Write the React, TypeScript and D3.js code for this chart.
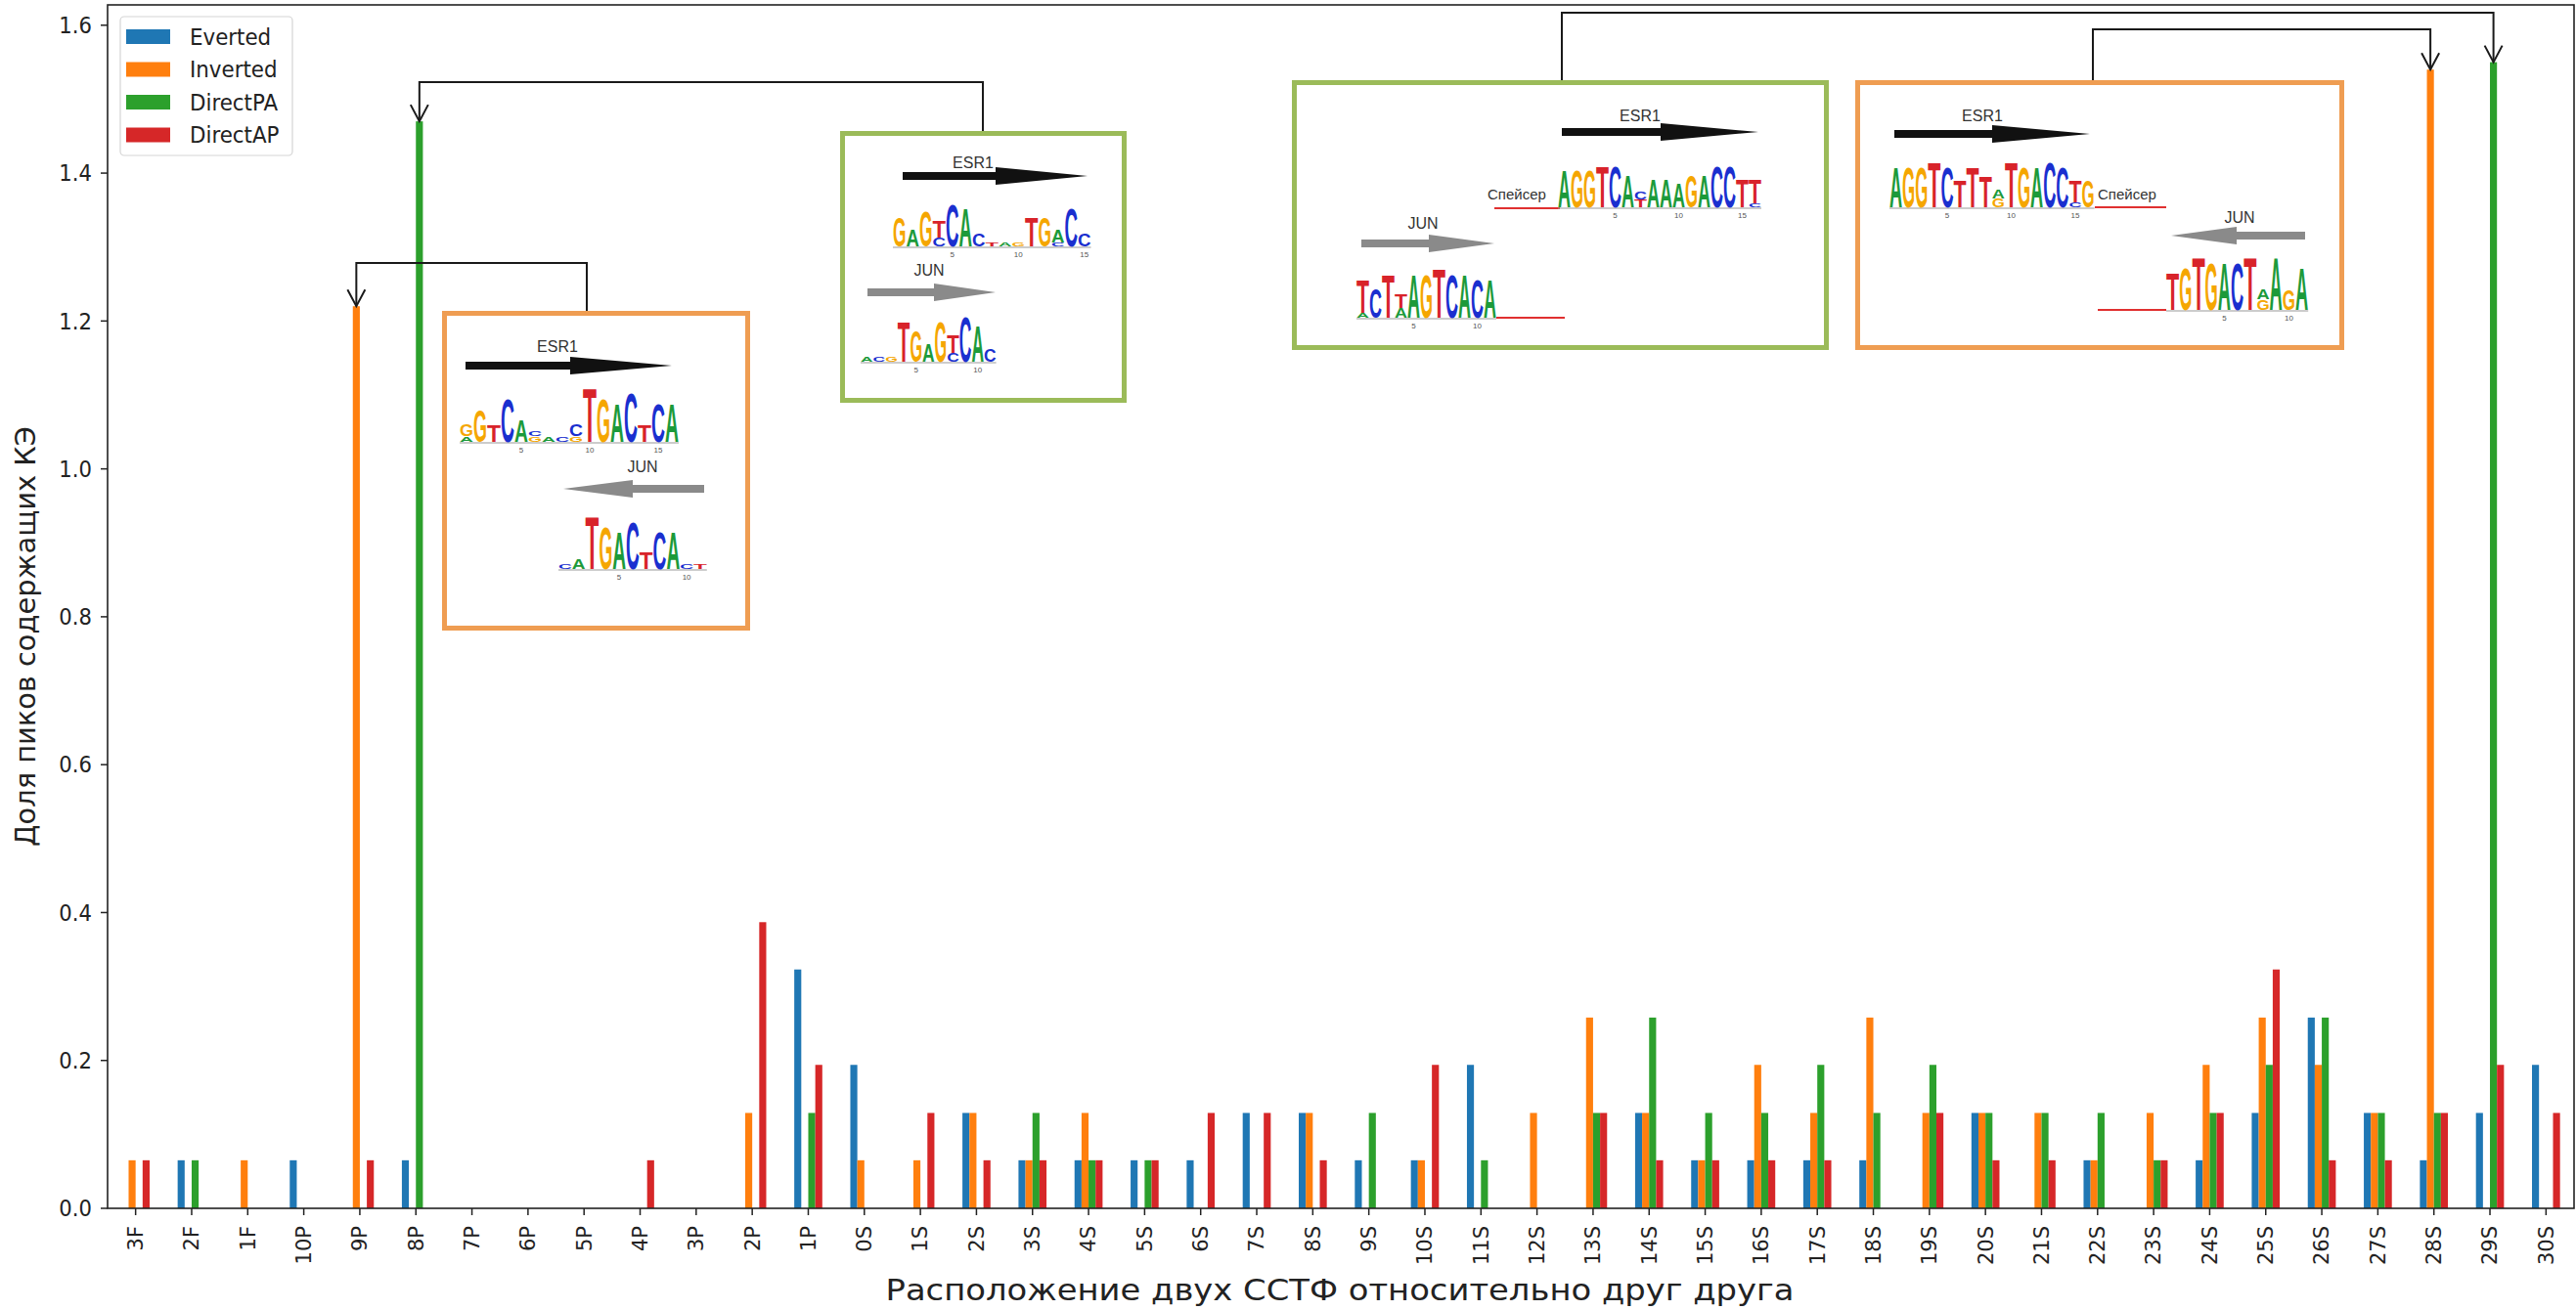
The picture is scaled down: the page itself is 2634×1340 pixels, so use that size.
import React from "react";
import * as d3 from "d3";

const categories = ["3F","2F","1F","10P","9P","8P","7P","6P","5P","4P","3P","2P","1P","0S","1S","2S","3S","4S","5S","6S","7S","8S","9S","10S","11S","12S","13S","14S","15S","16S","17S","18S","19S","20S","21S","22S","23S","24S","25S","26S","27S","28S","29S","30S"];

const everted = [0,0.065,0,0.065,0,0.065,0,0,0,0,0,0,0.323,0.194,0,0.129,0.065,0.065,0.065,0.065,0.129,0.129,0.065,0.065,0.194,0,0,0.129,0.065,0.065,0.065,0.065,0,0.129,0,0.065,0,0.065,0.129,0.258,0.129,0.065,0.129,0.194];
const inverted = [0.065,0,0.065,0,1.22,0,0,0,0,0,0,0.129,0,0.065,0.065,0.129,0.065,0.129,0,0,0,0.129,0,0.065,0,0.129,0.258,0.129,0.065,0.194,0.129,0.258,0.129,0.129,0.129,0.065,0.129,0.194,0.258,0.194,0.129,1.54,0,0];
const directPA = [0,0.065,0,0,0,1.47,0,0,0,0,0,0,0.129,0,0,0,0.129,0.065,0.065,0,0,0,0.129,0,0.065,0,0.129,0.258,0.129,0.129,0.194,0.129,0.194,0.129,0.129,0.129,0.065,0.129,0.194,0.258,0.129,0.129,1.55,0];
const directAP = [0.065,0,0,0,0.065,0,0,0,0,0.065,0,0.387,0.194,0,0.129,0.065,0.065,0.065,0.065,0.129,0.129,0.065,0,0.194,0,0,0.129,0.065,0.065,0.065,0.065,0,0.129,0.065,0.065,0,0.065,0.129,0.323,0.065,0.065,0.129,0.194,0.129];

const seriesNames = ["Everted","Inverted","DirectPA","DirectAP"];
const seriesColors = ["#1f77b4","#ff7f0e","#2ca02c","#d62728"];
const yTicks = [0,0.2,0.4,0.6,0.8,1.0,1.2,1.4,1.6];

const xLabel = "Расположение двух ССТФ относительно друг друга";
const yLabel = "Доля пиков содержащих КЭ";

// sequence logos: columns bottom-to-top, letter + height (tenths of max)
const logo1E = "A1G2 G6 T3 C8 A4 G1C1 A1 C1 G1C2 T10 G8 A7 C9 T3 C7 A7";
const logo1J = "C1 A2 T10 G8 A7 C9 T3 C7 A7 C1 T1";
const logo2E = "G7 A4 G8 C2T4 C10 A9 C3 T1 A1 G1 T7 G7 C1A3 C9 C3";
const logo2J = "A1 C1 G1 T9 G7 A4 G9 C2T4 C10 A8 C3";
const logo3E = "A9 G9 G9 T10 C10 A8 T2C2 A7 A7 A6 G8 A8 C10 C10 T7 C1T6";
const logo3J = "A1T7 C6 T9 A2T3 A9 G9 T10 C9 A9 C8 A8";
const logo4E = "A9 G9 G9 T10 C9 T6 T9 T7 G2A2 T10 G9 A9 C10 C9 C1T5 G6";
const logo4J = "T7 G8 T10 G9 A9 C9 T10 G2A2 A10 G4 A8";

const W = 2634, H = 1340;
const M = { left: 110, right: 2632, top: 5, bottom: 1236 };

const letterColor: Record<string,string> = { A: "#1c9a3a", C: "#1a2fcf", G: "#f5a600", T: "#d8232a" };
const letterW: Record<string,number> = { A: 0.722, C: 0.722, G: 0.778, T: 0.611 };

function Logo({ x0, base, colW, maxH, seq, nums }: any) {
  const cols = seq.split(" ");
  const out: any[] = [];
  cols.forEach((col: string, i: number) => {
    const re = /([ACGT])(\d+)/g;
    let m: any;
    let y = base;
    const cx = x0 + (i + 0.5) * colW;
    while ((m = re.exec(col))) {
      const L = m[1];
      const hh = (+m[2] / 10) * maxH;
      const sx = (colW * 1.0) / (letterW[L] * 100);
      const sy = hh / (0.716 * 100);
      out.push(
        <text key={`${i}-${out.length}`} transform={`translate(${cx},${y}) scale(${sx},${sy})`} fontSize={100} fontFamily="Liberation Sans" fontWeight="bold" textAnchor="middle" fill={letterColor[L]}>{L}</text>
      );
      y -= hh;
    }
  });
  const n = cols.length;
  return (
    <g>
      <line x1={x0} x2={x0 + n * colW} y1={base + 1} y2={base + 1} stroke="#999" strokeWidth={1} />
      {out}
      {nums.map((p: number) => (
        <text key={p} x={x0 + (p - 0.5) * colW} y={base + 11} fontSize={8} fontFamily="Liberation Sans" fill="#555" textAnchor="middle">{p}</text>
      ))}
    </g>
  );
}

function Arrow({ tail, tip, y, headBase, color }: any) {
  const t = 4, hw = 9;
  const pts = [
    [tail, y - t], [headBase, y - t], [headBase, y - hw], [tip, y], [headBase, y + hw], [headBase, y + t], [tail, y + t],
  ];
  return <polygon points={pts.map((p) => p.join(",")).join(" ")} fill={color} />;
}

function Label({ x, y, text }: any) {
  return <text x={x} y={y} fontSize={16} fontFamily="Liberation Sans" fill="#333" textAnchor="middle">{text}</text>;
}

export default function App() {
  const x = d3.scaleBand<string>().domain(categories).range([M.left, M.right]).paddingInner(0).paddingOuter(0);
  const step = x.bandwidth();
  const all = [everted, inverted, directPA, directAP];
  const maxV = d3.max(all.flat()) as number;
  const y = d3.scaleLinear().domain([0, maxV * 1.05]).range([M.bottom, M.top]);
  const bw = step * 0.125;
  const cx = (i: number) => (x(categories[i]) as number) + step / 2;
  const bx = (i: number, k: number) => cx(i) + (k - 1.5) * bw;

  const connectors = [
    { fx: 600, fy: 320, my: 269, cat: "9P", k: 1 },
    { fx: 1005, fy: 136, my: 84, cat: "8P", k: 2 },
    { fx: 1597, fy: 84, my: 13, cat: "29S", k: 2 },
    { fx: 2140, fy: 84, my: 30, cat: "28S", k: 1 },
  ];

  return (
    <svg width={W} height={H} style={{ position: "absolute", left: 0, top: 0, background: "#fff" }}>
      <rect x={0} y={0} width={W} height={H} fill="#fff" />
      {all.map((vals, k) => (
        <g key={k}>
          {vals.map((v, i) => v > 0 ? (
            <rect key={i} x={bx(i, k) - bw / 2} y={y(v)} width={bw} height={y(0) - y(v)} fill={seriesColors[k]} />
          ) : null)}
        </g>
      ))}
      <rect x={M.left} y={M.top} width={M.right - M.left} height={M.bottom - M.top} fill="none" stroke="#222" strokeWidth={1.6} />
      {yTicks.map((t) => (
        <g key={t}>
          <line x1={M.left - 7} x2={M.left} y1={y(t)} y2={y(t)} stroke="#222" strokeWidth={1.5} />
          <text transform={`translate(${M.left - 16},${y(t)}) scale(0.92,1)`} dy="0.36em" fontSize={23} fontFamily="DejaVu Sans" textAnchor="end" fill="#222">{t.toFixed(1)}</text>
        </g>
      ))}
      {categories.map((c, i) => (
        <g key={c}>
          <line x1={cx(i)} x2={cx(i)} y1={M.bottom} y2={M.bottom + 7} stroke="#222" strokeWidth={1.5} />
          <text transform={`translate(${cx(i)},${M.bottom + 18}) rotate(-90)`} fontSize={21} fontFamily="DejaVu Sans" textAnchor="end" dy="0.35em" fill="#222">{c}</text>
        </g>
      ))}
      <text x={1370} y={1330} fontSize={30} fontFamily="DejaVu Sans" textAnchor="middle" textLength={929} lengthAdjust="spacingAndGlyphs" fill="#222">{xLabel}</text>
      <text transform={`translate(36,651) rotate(-90)`} fontSize={29} fontFamily="DejaVu Sans" textAnchor="middle" textLength={430} lengthAdjust="spacingAndGlyphs" fill="#222">{yLabel}</text>

      <rect x={123} y={17} width={176} height={142} rx={4} fill="#fff" fillOpacity={0.8} stroke="#d5d5d5" strokeWidth={1.2} />
      {seriesNames.map((s, k) => (
        <g key={s}>
          <rect x={129} y={30 + k * 33.5} width={45} height={15} fill={seriesColors[k]} />
          <text transform={`translate(194,${37.5 + k * 33.5}) scale(0.93,1)`} dy="0.36em" fontSize={23} fontFamily="DejaVu Sans" fill="#222">{s}</text>
        </g>
      ))}

      {connectors.map((c, j) => {
        const i = categories.indexOf(c.cat);
        const tx = bx(i, c.k);
        const ty = y(all[c.k][i]);
        return (
          <g key={j} stroke="#1a1a1a" strokeWidth={2} fill="none">
            <polyline points={`${c.fx},${c.fy} ${c.fx},${c.my} ${tx},${c.my} ${tx},${ty}`} />
            <polyline points={`${tx - 9},${ty - 17} ${tx},${ty} ${tx + 9},${ty - 17}`} />
          </g>
        );
      })}

      <g>
        <rect x={454.5} y={320.5} width={310} height={322} fill="#fff" stroke="#ef9d52" strokeWidth={5} />
        <Label x={570} y={360} text="ESR1" />
        <Arrow tail={476} tip={687} y={374} headBase={583} color="#111" />
        <Logo x0={470} base={452} colW={14} maxH={56} seq={logo1E} nums={[5, 10, 15]} />
        <Label x={657} y={483} text="JUN" />
        <Arrow tail={720} tip={576} y={500} headBase={647} color="#8a8a8a" />
        <Logo x0={571} base={582} colW={13.8} maxH={55} seq={logo1J} nums={[5, 10]} />
      </g>
      <g>
        <rect x={861.5} y={136.5} width={288} height={273} fill="#fff" stroke="#9bbb59" strokeWidth={5} />
        <Label x={995} y={172} text="ESR1" />
        <Arrow tail={923} tip={1112} y={180} headBase={1018} color="#111" />
        <Logo x0={913} base={252} colW={13.5} maxH={44} seq={logo2E} nums={[5, 10, 15]} />
        <Label x={950} y={282} text="JUN" />
        <Arrow tail={887} tip={1018} y={299} headBase={955} color="#8a8a8a" />
        <Logo x0={880} base={370} colW={12.6} maxH={46} seq={logo2J} nums={[5, 10]} />
      </g>
      <g>
        <rect x={1323.5} y={84.5} width={544} height={271} fill="#fff" stroke="#9bbb59" strokeWidth={5} />
        <Label x={1677} y={124} text="ESR1" />
        <Arrow tail={1597} tip={1798} y={135} headBase={1698} color="#111" />
        <text x={1521} y={204} fontSize={15} fontFamily="Liberation Sans" fill="#333">Спейсер</text>
        <line x1={1528} x2={1595} y1={213} y2={213} stroke="#e03030" strokeWidth={2} />
        <Logo x0={1593} base={212} colW={13} maxH={42} seq={logo3E} nums={[5, 10, 15]} />
        <Label x={1455} y={234} text="JUN" />
        <Arrow tail={1392} tip={1528} y={249} headBase={1461} color="#8a8a8a" />
        <Logo x0={1387} base={325} colW={13} maxH={50} seq={logo3J} nums={[5, 10]} />
        <line x1={1530} x2={1600} y1={325} y2={325} stroke="#e03030" strokeWidth={2} />
      </g>
      <g>
        <rect x={1899.5} y={84.5} width={495} height={271} fill="#fff" stroke="#ef9d52" strokeWidth={5} />
        <Label x={2027} y={124} text="ESR1" />
        <Arrow tail={1937} tip={2137} y={137} headBase={2037} color="#111" />
        <Logo x0={1932} base={212} colW={13.1} maxH={46} seq={logo4E} nums={[5, 10, 15]} />
        <text x={2145} y={204} fontSize={15} fontFamily="Liberation Sans" fill="#333">Спейсер</text>
        <line x1={2142} x2={2215} y1={212} y2={212} stroke="#e03030" strokeWidth={2} />
        <Label x={2290} y={228} text="JUN" />
        <Arrow tail={2357} tip={2220} y={241} headBase={2287} color="#8a8a8a" />
        <line x1={2145} x2={2215} y1={317} y2={317} stroke="#e03030" strokeWidth={2} />
        <Logo x0={2215} base={317} colW={13.2} maxH={54} seq={logo4J} nums={[5, 10]} />
      </g>
    </svg>
  );
}
